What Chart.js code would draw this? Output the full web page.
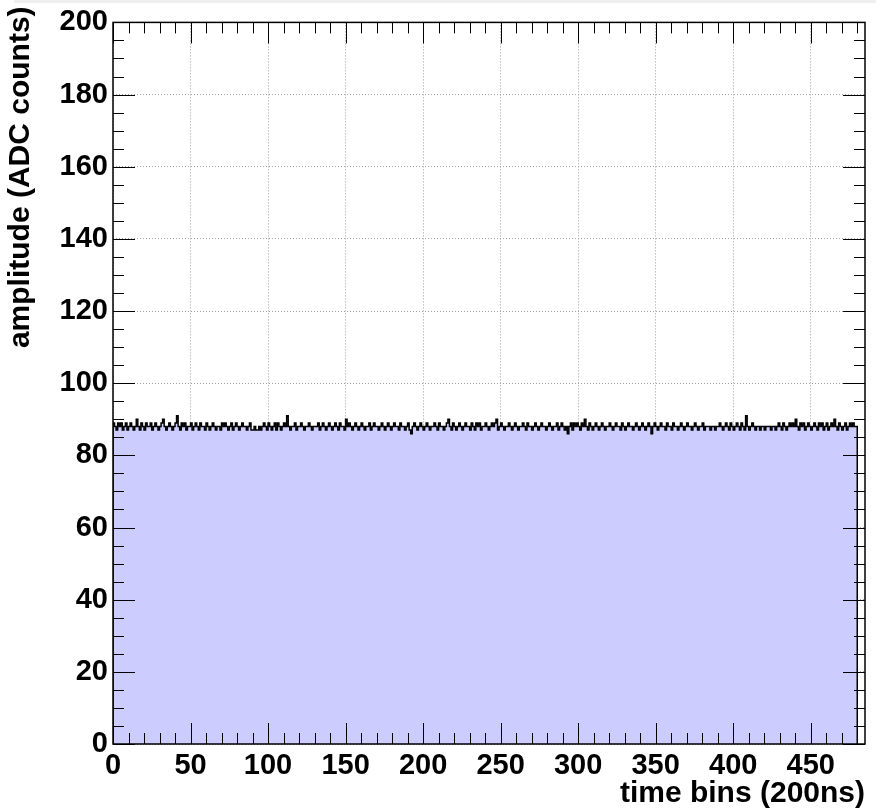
<!DOCTYPE html>
<html>
<head>
<meta charset="utf-8">
<title>amplitude vs time bins</title>
<script src="https://cdn.jsdelivr.net/npm/chart.js"></script>
<style>
  html, body { margin: 0; padding: 0; background: #fff; }
  canvas { display: block; }
</style>
</head>
<body>
<canvas id="waveChart" width="881" height="812"></canvas>
<script>
// ADC amplitude per 200ns time bin (480 bins)
const amplitude = [
  88,89,88,87,89,88,89,87,88,89,87,88,89,88,87,88,90,88,87,89,
  88,87,89,88,88,89,87,88,89,88,87,88,89,90,88,87,88,89,88,87,
  88,89,91,88,87,89,88,89,87,88,88,89,87,88,89,88,87,89,88,88,
  87,89,88,87,88,89,88,87,88,88,87,89,88,89,88,87,88,89,87,88,
  89,88,87,88,89,88,88,87,88,89,87,87,88,87,87,88,87,88,89,88,
  87,89,88,87,88,89,87,89,88,87,88,89,88,91,88,87,88,88,89,87,
  88,88,89,88,87,88,88,89,88,87,88,88,88,89,87,88,89,88,87,88,
  89,88,87,88,89,88,87,89,88,88,87,90,88,89,88,87,88,89,88,87,
  88,89,88,87,88,88,89,87,88,89,88,88,87,88,89,88,87,88,89,88,
  87,88,89,88,88,87,89,88,88,87,88,89,87,86,88,89,88,87,88,89,
  88,87,88,89,88,87,88,88,89,88,87,89,88,88,87,88,89,90,88,87,
  89,88,87,88,89,88,87,88,89,88,88,87,89,88,87,89,88,89,87,88,
  88,89,88,87,88,89,88,89,90,87,88,89,88,87,88,88,89,88,87,88,
  89,88,87,88,88,89,88,87,89,88,88,87,88,89,88,87,88,89,88,88,
  87,88,89,88,87,88,88,89,87,88,89,88,87,88,86,88,89,87,89,88,
  89,88,87,89,88,90,88,87,89,88,87,88,89,88,87,88,89,88,87,88,
  88,89,88,87,88,89,88,88,87,89,88,87,88,89,88,88,87,88,89,88,
  87,88,89,88,87,88,89,88,86,88,89,88,87,88,89,88,88,87,89,88,
  88,87,89,88,88,87,88,89,88,87,88,89,88,88,87,88,89,88,87,88,
  88,89,87,88,88,88,87,88,88,87,88,88,89,88,87,88,89,88,87,89,
  88,87,88,89,88,87,89,88,87,91,88,87,88,89,88,87,88,88,87,88,
  88,87,88,88,88,87,88,88,87,88,89,88,87,89,88,87,88,89,88,89,
  88,90,88,87,89,88,89,87,88,89,88,87,88,89,88,87,89,88,89,87,
  88,89,87,88,89,88,90,88,87,89,88,87,88,89,87,88,89,88,89,88
];
const xTickValues = [0, 50, 100, 150, 200, 250, 300, 350, 400, 450];
const yTickValues = [0, 20, 40, 60, 80, 100, 120, 140, 160, 180, 200];
const xTitle = 'time bins (200ns)';
const yTitle = 'amplitude (ADC counts)';

const FONT = "'Liberation Sans', Arial, Helvetica, sans-serif";

// histogram outline: bin i spans [i, i+1]
const steps = [{ x: 0, y: 0 }];
amplitude.forEach((v, i) => steps.push({ x: i, y: v }));
steps.push({ x: amplitude.length, y: amplitude[amplitude.length - 1] });
steps.push({ x: amplitude.length, y: 0 });

// ROOT style frame: inward ticks on all four sides + axis titles
const rootFrame = {
  id: 'rootFrame',
  beforeDraw(chart) {
    const ctx = chart.ctx;
    ctx.save();
    ctx.fillStyle = '#efefef';
    ctx.fillRect(14, 0, 862, 3);
    ctx.restore();
  },
  afterDraw(chart) {
    const { ctx, chartArea: a, scales: { x, y } } = chart;
    ctx.save();
    ctx.strokeStyle = '#000';
    ctx.lineWidth = 1;
    ctx.beginPath();
    for (let v = 0; v <= 480; v += 10) {
      const px = Math.round(x.getPixelForValue(v)) + 0.5;
      const len = v % 50 === 0 ? 21 : 11;
      ctx.moveTo(px, a.bottom); ctx.lineTo(px, a.bottom - len);
      ctx.moveTo(px, a.top); ctx.lineTo(px, a.top + len);
    }
    for (let v = 0; v <= 200; v += 5) {
      const py = Math.round(y.getPixelForValue(v)) + 0.5;
      const len = v % 20 === 0 ? 22 : 11;
      ctx.moveTo(a.left, py); ctx.lineTo(a.left + len, py);
      ctx.moveTo(a.right, py); ctx.lineTo(a.right - len, py);
    }
    ctx.stroke();
    ctx.lineWidth = 1.5;
    ctx.strokeRect(a.left, a.top, a.right - a.left, a.bottom - a.top);

    ctx.fillStyle = '#000';
    ctx.font = 'bold 30px ' + FONT;
    ctx.textAlign = 'right';
    ctx.textBaseline = 'alphabetic';
    ctx.fillText(xTitle, a.right, 802);

    ctx.translate(29, a.top - 16);
    ctx.rotate(-Math.PI / 2);
    ctx.fillText(yTitle, 0, 0);
    ctx.restore();
  }
};

new Chart(document.getElementById('waveChart'), {
  type: 'line',
  data: {
    datasets: [{
      data: steps,
      stepped: 'after',
      fill: 'origin',
      backgroundColor: '#ccccff',
      borderColor: '#000',
      borderWidth: 1.5,
      pointRadius: 0,
      tension: 0
    }]
  },
  options: {
    responsive: false,
    animation: false,
    events: [],
    layout: { padding: { left: 0, top: 19, right: 16, bottom: 0 } },
    plugins: { legend: { display: false }, tooltip: { enabled: false } },
    scales: {
      x: {
        type: 'linear',
        min: 0,
        max: 485,
        afterBuildTicks: s => { s.ticks = xTickValues.map(v => ({ value: v })); },
        afterFit: s => { s.height = 68; },
        grid: { color: '#a0a0a0', drawTicks: false },
        border: { display: false, dash: [1, 2] },
        ticks: {
          padding: 5, maxRotation: 0, autoSkip: false, color: '#000',
          font: { family: FONT, size: 29, weight: 'bold' }
        }
      },
      y: {
        type: 'linear',
        min: 0,
        max: 200,
        afterBuildTicks: s => { s.ticks = yTickValues.map(v => ({ value: v })); },
        afterFit: s => { s.width = 113; },
        grid: { color: '#a0a0a0', drawTicks: false },
        border: { display: false, dash: [1, 2] },
        ticks: {
          padding: 5, autoSkip: false, color: '#000',
          font: { family: FONT, size: 29, weight: 'bold' }
        }
      }
    }
  },
  plugins: [rootFrame]
});
</script>
</body>
</html>
